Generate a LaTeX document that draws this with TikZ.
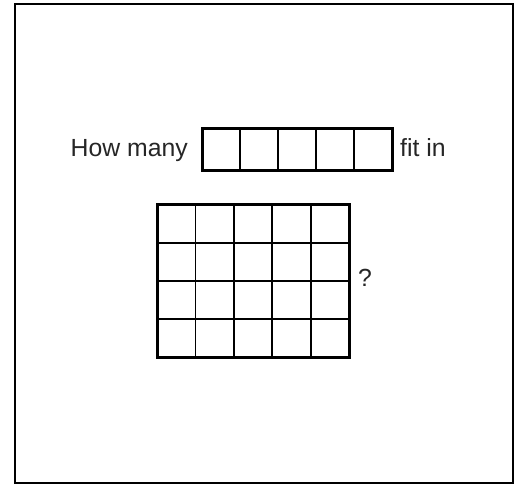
\documentclass[tikz,border=0pt]{standalone}
\usepackage{fontspec}
\setmainfont{Liberation Sans}
\begin{document}
\begin{tikzpicture}[x=1pt,y=1pt,
  lbl/.style={inner sep=0pt,font=\fontsize{24.8}{30}\selectfont,text=black!85},
  outerline/.style={line width=3pt},
  innerline/.style={line width=1.8pt}]
\useasboundingbox (0,0) rectangle (519,485);
\fill[white] (0,0) rectangle (519,485);
\draw[line width=2.4pt] (15,2) rectangle (513,481);
% bar of five
\foreach \i in {1,...,4} \draw[innerline] (202+\i*38,314) -- (202+\i*38,356);
\draw[outerline] (202,314) rectangle (392,356);
% grid 5x4
\foreach \i in {1,...,4} \draw[innerline] (157+\i*38.4,128) -- (157+\i*38.4,280);
\foreach \j in {1,...,3} \draw[innerline] (157,128+\j*38) -- (349,128+\j*38);
\draw[outerline] (157,128) rectangle (349,280);
\node[lbl,anchor=base east] (howmany) at (188,328) {How many};
\node[lbl,anchor=base west] (fitin) at (400,328) {fit in};
\node[lbl,anchor=base west] (q) at (358,198) {?};
\end{tikzpicture}
\end{document}
